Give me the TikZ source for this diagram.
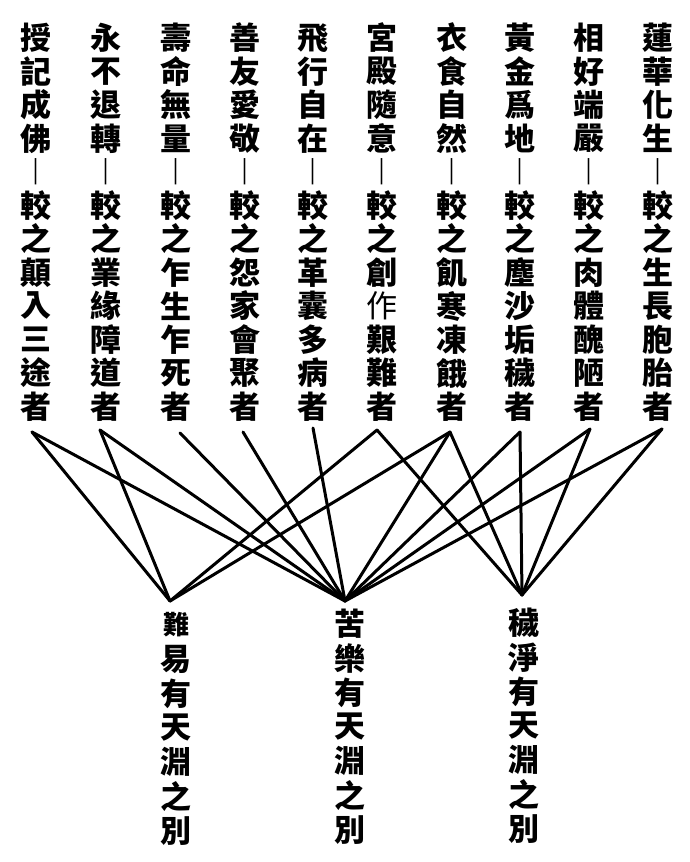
\documentclass[tikz,border=0pt]{standalone}
\usepackage{fontspec}
\newfontfamily\cjk{Noto Sans CJK TC}
\newcommand\vcolumn[4]{%
  \foreach \cc [count=\ii from 0] in {#4} {%
    \node[ch] (#1-\ii) at (#2, #3+33.5*\ii) {\cc};
  }%
}
\newcommand\bcolumn[4]{%
  \foreach \cc [count=\ii from 0] in {#4} {%
    \node[ch] (#1-\ii) at (#2, #3+34.3*\ii) {\cc};
  }%
}
\begin{document}
\begin{tikzpicture}[x=1pt,y=-1pt,
  ch/.style={inner sep=0pt, font=\cjk\bfseries\fontsize{31}{31}\selectfont},
  link/.style={line width=3pt, line cap=round}]
\useasboundingbox[fill=white] (0,0) rectangle (689,862);
% top columns (right to left)
\vcolumn{t1}{658}{38}{蓮,華,化,生,︱,較,之,生,長,胞,胎,者}
\vcolumn{t2}{589}{38}{相,好,端,嚴,︱,較,之,肉,體,醜,陋,者}
\vcolumn{t3}{520}{38}{黃,金,爲,地,︱,較,之,塵,沙,垢,穢,者}
\vcolumn{t4}{452}{38}{衣,食,自,然,︱,較,之,飢,寒,凍,餓,者}
\vcolumn{t5}{382}{38}{宮,殿,隨,意,︱,較,之,創,{\mdseries 作},艱,難,者}
\vcolumn{t6}{313}{38}{飛,行,自,在,︱,較,之,革,囊,多,病,者}
\vcolumn{t7}{245}{38}{善,友,愛,敬,︱,較,之,怨,家,會,聚,者}
\vcolumn{t8}{176}{38}{壽,命,無,量,︱,較,之,乍,生,乍,死,者}
\vcolumn{t9}{106}{38}{永,不,退,轉,︱,較,之,業,緣,障,道,者}
\vcolumn{t10}{36}{38}{授,記,成,佛,︱,較,之,顛,入,三,途,者}
% bottom columns
\bcolumn{b1}{176}{625}{{\fontsize{26}{26}\selectfont 難},易,有,天,淵,之,別}
\bcolumn{b2}{350}{624}{苦,樂,有,天,淵,之,別}
\bcolumn{b3}{524}{623}{穢,淨,有,天,淵,之,別}
% line ends
\coordinate (e1) at (662,429);
\coordinate (e2) at (590,429);
\coordinate (e3) at (520,432);
\coordinate (e4) at (450,432);
\coordinate (e5) at (377,430);
\coordinate (e6) at (313,428);
\coordinate (e7) at (243,432);
\coordinate (e8) at (180,433);
\coordinate (e9) at (100,430);
\coordinate (e10) at (32,432);
\coordinate (hL) at (170,601);
\coordinate (hM) at (345,601);
\coordinate (hR) at (522,595);
% connectors
\draw[link] (e10) -- (hL);
\draw[link] (e10) -- (hM);
\draw[link] (e9) -- (hL);
\draw[link] (e9) -- (hM);
\draw[link] (e8) -- (hM);
\draw[link] (e7) -- (hM);
\draw[link] (e6) -- (hM);
\draw[link] (e5) -- (hL);
\draw[link] (e5) -- (hR);
\draw[link] (e4) -- (hL);
\draw[link] (e4) -- (hM);
\draw[link] (e4) -- (hR);
\draw[link] (e3) -- (hM);
\draw[link] (e3) -- (hR);
\draw[link] (e2) -- (hM);
\draw[link] (e2) -- (hR);
\draw[link] (e1) -- (hM);
\draw[link] (e1) -- (hR);
\end{tikzpicture}
\end{document}
